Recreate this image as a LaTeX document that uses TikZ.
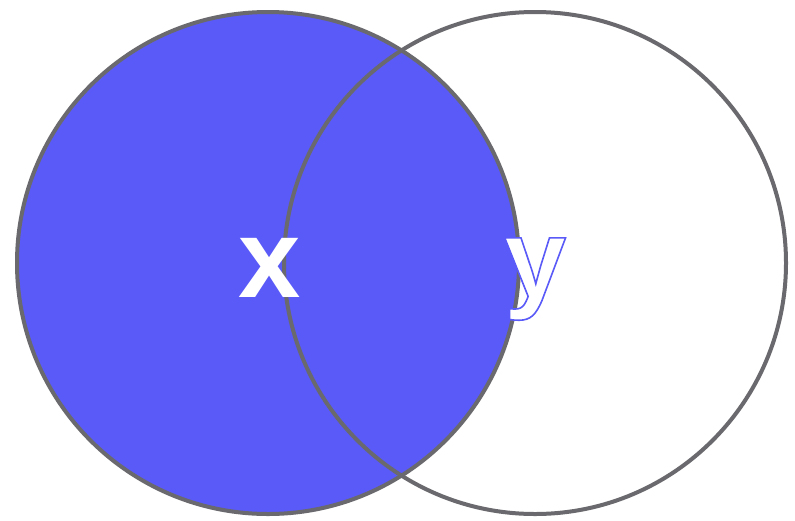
\documentclass[tikz,border=0pt]{standalone}
\usepackage{fontspec}
\setmainfont{Liberation Sans}
\definecolor{vblue}{RGB}{90,90,248}
\definecolor{vgray}{RGB}{105,105,110}
\newcommand{\outlinetext}[1]{\special{pdf:literal direct q 0.353 0.353 0.973 RG 1.6 w 2 Tr}#1\special{pdf:literal direct 0 Tr Q}}
\begin{document}
\begin{tikzpicture}[x=1pt,y=-1pt,
  lbl/.style={anchor=base,inner sep=0pt,font=\fontsize{112}{112}\selectfont\bfseries}]
\useasboundingbox[fill=white] (0,0) rectangle (795,520);
\fill[vblue] (268,263) circle[radius=251];
\draw[vgray,line width=4pt] (268,263) circle[radius=251];
\draw[vgray,line width=4pt] (535,263) circle[radius=251];
\node[lbl,text=white] (x) at (270,297) {x};
\node[lbl,text=white] (y) at (535,297) {\outlinetext{y}};
\end{tikzpicture}
\end{document}
